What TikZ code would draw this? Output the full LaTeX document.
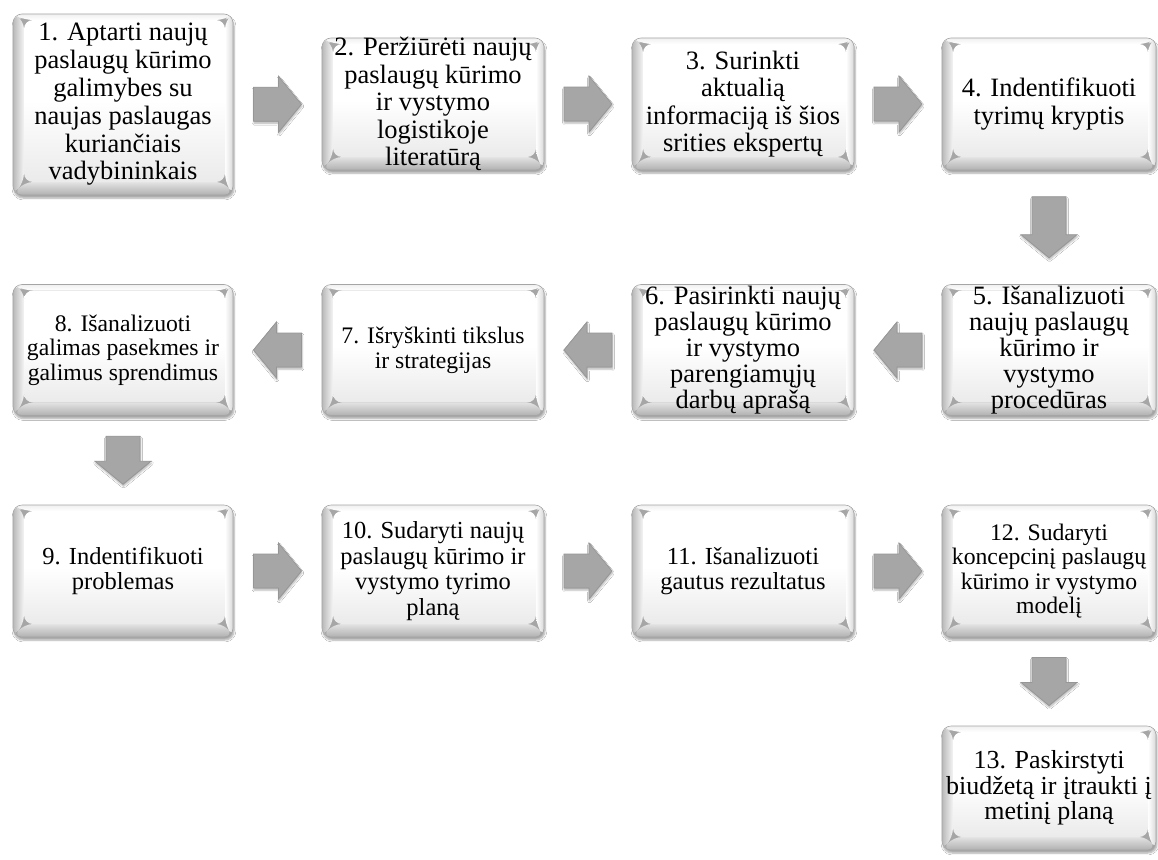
\documentclass[tikz,border=0pt]{standalone}
\usepackage{fontspec}
\setmainfont{Liberation Serif}
\usetikzlibrary{calc,shadows.blur}

\definecolor{arrowfill}{RGB}{166,166,166}
\definecolor{arrowedge}{RGB}{150,150,150}
\definecolor{boxedge}{RGB}{165,165,165}

% text of a step, centred in a box of fixed height so long texts may overflow
\newcommand\steptxt[1]{\parbox[c][100pt][c]{214pt}{\centering #1}}

\tikzset{
  tsize/.style 2 args={font=\fontsize{#1}{#2}\selectfont},
  stepbox/.style={rounded corners=9pt, draw=boxedge, line width=0.6pt, inner sep=0pt,
    tsize={26.5pt}{27.5pt},
    blur shadow={shadow xshift=1pt, shadow yshift=-3pt, shadow blur steps=6, shadow opacity=35},
    path picture={
      \coordinate (osw) at (path picture bounding box.south west);
      \coordinate (one) at (path picture bounding box.north east);
      \coordinate (onw) at (path picture bounding box.north west);
      \coordinate (ose) at (path picture bounding box.south east);
      \coordinate (isw) at ($(osw)+(11pt,13pt)$);
      \coordinate (ine) at ($(one)+(-8pt,-6pt)$);
      \coordinate (inw) at ($(onw)+(11pt,-6pt)$);
      \coordinate (ise) at ($(ose)+(-8pt,13pt)$);
      % bevelled frame
      \shade[left color=gray!55, right color=gray!8] (osw)--(onw)--(inw)--(isw)--cycle;
      \shade[left color=white, right color=gray!30] (ose)--(one)--(ine)--(ise)--cycle;
      \shade[top color=gray!12, bottom color=white] (onw)--(one)--(ine)--(inw)--cycle;
      \shade[top color=gray!22, bottom color=gray!62] (osw)--(ose)--(ise)--(isw)--cycle;
      % flat face
      \shade[top color=white, bottom color=gray!16, middle color=white] (isw) rectangle (ine);
    }},
  arrowbody/.style={fill=arrowfill, draw=arrowedge, line width=0.8pt,
    blur shadow={shadow xshift=0.5pt, shadow yshift=-2pt, shadow blur steps=5, shadow opacity=30}},
  pics/blockarrow/.style={code={
    \path[arrowbody] ({-#1/2},-17) -- ({#1/2-23},-17) -- ({#1/2-23},-28) -- ({#1/2},0)
      -- ({#1/2-23},28) -- ({#1/2-23},17) -- ({-#1/2},17) -- cycle;
  }},
}

\begin{document}
\begin{tikzpicture}[x=1pt,y=-1pt]
\useasboundingbox[fill=white] (0,0) rectangle (1158,859);

% first row
\node[stepbox, minimum width=220pt, minimum height=181pt, tsize={26.5pt}{27.8pt}] (b1) at (123,104.5)
  {\steptxt{1. Aptarti naujų\\ paslaugų kūrimo\\ galimybes su\\ naujas paslaugas\\ kuriančiais\\ vadybininkais}};
\node[stepbox, minimum width=222pt, minimum height=132pt] (b2) at (433,104)
  {\steptxt{2. Peržiūrėti naujų\\ paslaugų kūrimo\\ ir vystymo\\ logistikoje\\ literatūrą}};
\node[stepbox, minimum width=222pt, minimum height=132pt] (b3) at (743,104)
  {\steptxt{3. Surinkti\\ aktualią\\ informaciją iš šios\\ srities ekspertų}};
\node[stepbox, minimum width=214pt, minimum height=132pt] (b4) at (1049,104)
  {\steptxt{4. Indentifikuoti\\ tyrimų kryptis}};

% second row
\node[stepbox, minimum width=214pt, minimum height=131pt, tsize={26.5pt}{26pt}] (b5) at (1049,350)
  {\steptxt{5. Išanalizuoti\\ naujų paslaugų\\ kūrimo ir\\ vystymo\\ procedūras}};
\node[stepbox, minimum width=222pt, minimum height=131pt, tsize={26.5pt}{26pt}] (b6) at (743,350)
  {\steptxt{6. Pasirinkti naujų\\ paslaugų kūrimo\\ ir vystymo\\ parengiamųjų\\ darbų aprašą}};
\node[stepbox, minimum width=222pt, minimum height=131pt, tsize={23.7pt}{25pt}] (b7) at (433,350)
  {\steptxt{7. Išryškinti tikslus\\ ir strategijas}};
\node[stepbox, minimum width=220pt, minimum height=131pt, tsize={23.7pt}{24.5pt}] (b8) at (123,350)
  {\steptxt{8. Išanalizuoti\\ galimas pasekmes ir\\ galimus sprendimus}};

% third row
\node[stepbox, minimum width=220pt, minimum height=132pt, tsize={24.5pt}{25.5pt}] (b9) at (123,571)
  {\steptxt{9. Indentifikuoti\\ problemas}};
\node[stepbox, minimum width=222pt, minimum height=132pt, tsize={24.5pt}{25.5pt}] (b10) at (433,571)
  {\steptxt{10. Sudaryti naujų\\ paslaugų kūrimo ir\\ vystymo tyrimo\\ planą}};
\node[stepbox, minimum width=222pt, minimum height=132pt, tsize={24.5pt}{25.5pt}] (b11) at (743,571)
  {\steptxt{11. Išanalizuoti\\ gautus rezultatus}};
\node[stepbox, minimum width=214pt, minimum height=132pt, tsize={23.7pt}{24.3pt}] (b12) at (1049,571)
  {\steptxt{12. Sudaryti\\ koncepcinį paslaugų\\ kūrimo ir vystymo\\ modelį}};

% last step
\node[stepbox, minimum width=214pt, minimum height=124pt, tsize={26pt}{25.5pt}] (b13) at (1049,788)
  {\steptxt{13. Paskirstyti\\ biudžetą ir įtraukti į\\ metinį planą}};

% block arrows between the steps
\pic at ($(b1.east)!.5!(b2.west)$) {blockarrow=48};
\pic at ($(b2.east)!.5!(b3.west)$) {blockarrow=48};
\pic at ($(b3.east)!.5!(b4.west)$) {blockarrow=48};
\pic[rotate=-90] at ($(b4.south)!.5!(b5.north)$) {blockarrow=61};
\pic[rotate=180] at ($(b5.west)!.5!(b6.east)$) {blockarrow=48};
\pic[rotate=180] at ($(b6.west)!.5!(b7.east)$) {blockarrow=48};
\pic[rotate=180] at ($(b7.west)!.5!(b8.east)$) {blockarrow=48};
\pic[rotate=-90] at ($(b8.south)!.5!(b9.north)$) {blockarrow=48};
\pic at ($(b9.east)!.5!(b10.west)$) {blockarrow=48};
\pic at ($(b10.east)!.5!(b11.west)$) {blockarrow=48};
\pic at ($(b11.east)!.5!(b12.west)$) {blockarrow=48};
\pic[rotate=-90] at ($(b12.south)!.5!(b13.north)$) {blockarrow=48};
\end{tikzpicture}
\end{document}
